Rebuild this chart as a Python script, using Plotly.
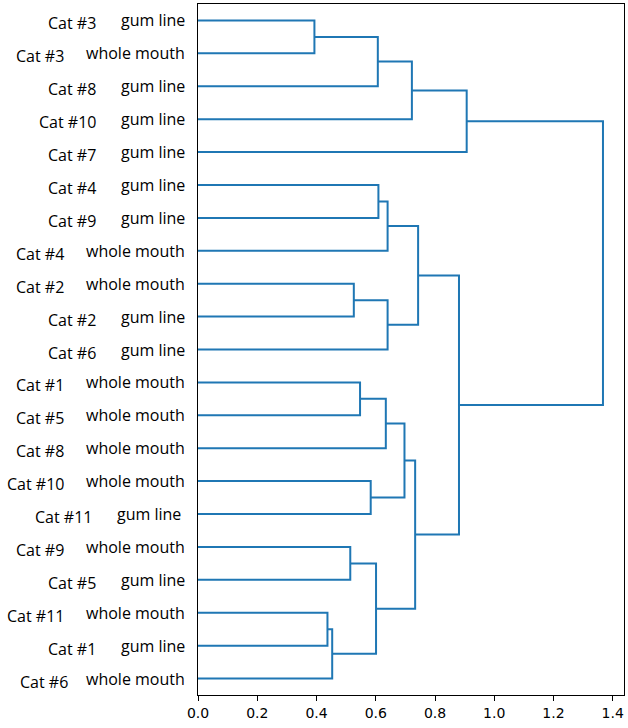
import plotly.graph_objects as go

# Leaf labels, top to bottom
cats = ["Cat #3", "Cat #3", "Cat #8", "Cat #10", "Cat #7", "Cat #4", "Cat #9",
        "Cat #4", "Cat #2", "Cat #2", "Cat #6", "Cat #1", "Cat #5", "Cat #8",
        "Cat #10", "Cat #11", "Cat #9", "Cat #5", "Cat #11", "Cat #1", "Cat #6"]
sites = ["gum line", "whole mouth", "gum line", "gum line", "gum line", "gum line",
         "gum line", "whole mouth", "whole mouth", "gum line", "gum line",
         "whole mouth", "whole mouth", "whole mouth", "whole mouth", "gum line",
         "whole mouth", "gum line", "whole mouth", "gum line", "whole mouth"]

# Merges: (child a, child b, distance); new node ids start at len(cats)
merge_a = [0, 21, 22, 23, 5, 25, 8, 27, 26, 11, 30, 14, 31, 16, 18, 35, 34, 33, 29, 24]
merge_b = [1, 2, 3, 4, 6, 7, 9, 10, 28, 12, 13, 15, 32, 17, 19, 20, 36, 37, 38, 39]
merge_h = [0.393, 0.607, 0.722, 0.907, 0.609, 0.640, 0.526, 0.640, 0.743, 0.547,
           0.634, 0.583, 0.697, 0.514, 0.437, 0.453, 0.601, 0.733, 0.881, 1.367]

xticks = [0.0, 0.2, 0.4, 0.6, 0.8, 1.0, 1.2, 1.4]

n = len(cats)
node_y = [5 + 10 * i for i in range(n)]
node_x = [0.0] * n
xs, ys = [], []
for a, b, h in zip(merge_a, merge_b, merge_h):
    ya, yb = node_y[a], node_y[b]
    xs += [node_x[a], h, h, node_x[b], None]
    ys += [ya, ya, yb, yb, None]
    node_y.append((ya + yb) / 2)
    node_x.append(h)

fig = go.Figure()
fig.add_trace(go.Scatter(x=xs, y=ys, mode="lines",
                         line=dict(color="#1f77b4", width=2), hoverinfo="skip",
                         showlegend=False))

W = 628
L, R = 198, 4
pw = W - L - R

def px2paper(px):
    return (px - L) / pw

annotations = []
for i, (c, s) in enumerate(zip(cats, sites)):
    y = 5 + 10 * i
    site_right = 187
    cat_right = 98 if s == "gum line" else 66
    if i == 15:
        site_right, cat_right = 183, 94
    if i == 20:
        cat_right = 70
    annotations.append(dict(x=px2paper(site_right), xref="paper", y=y, yref="y",
                            text=s, showarrow=False, xanchor="right", yanchor="middle",
                            yshift=0,
                            font=dict(family="Open Sans", size=16, color="#000")))
    annotations.append(dict(x=px2paper(cat_right), xref="paper", y=y, yref="y",
                            text=c, showarrow=False, xanchor="right", yanchor="middle",
                            yshift=-3,
                            font=dict(family="Open Sans", size=16, color="#000")))

fig.update_layout(
    width=628, height=728,
    margin=dict(l=L, r=R, t=4, b=33),
    plot_bgcolor="white", paper_bgcolor="white",
    annotations=annotations,
    xaxis=dict(range=[0, 1.438], tickvals=xticks,
               ticktext=[f"{v:.1f}" for v in xticks],
               ticks="outside", ticklen=5, tickcolor="#000", tickwidth=1,
               showline=True, linecolor="#000", linewidth=1, mirror=True,
               showgrid=False, zeroline=False,
               tickfont=dict(family="DejaVu Sans", size=14, color="#000")),
    yaxis=dict(range=[210, 0], showticklabels=False, ticks="",
               showline=True, linecolor="#000", linewidth=1, mirror=True,
               showgrid=False, zeroline=False),
)

fig.write_html("out.html")
